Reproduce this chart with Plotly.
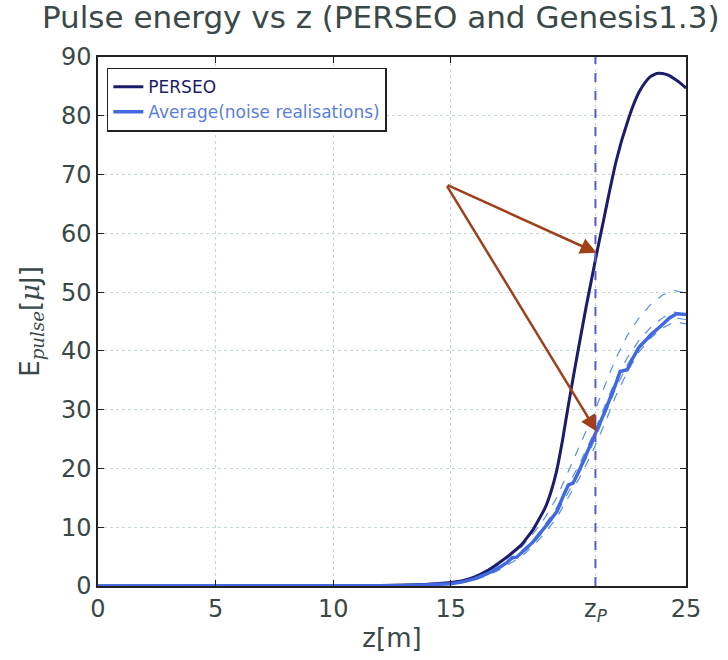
import plotly.graph_objects as go

# ---------------- data ----------------
z_grid = [0, 5, 10, 12, 13, 14, 15, 15.5, 16, 16.5, 17, 17.5, 18, 18.5, 19, 19.25, 19.5, 19.75,
          20, 20.25, 20.5, 20.75, 21, 21.25, 21.5, 21.75, 22, 22.25, 22.5, 22.75, 23, 23.25,
          23.5, 23.75, 24, 24.25, 24.5, 24.75, 25]
perseo = [0, 0, 0.02, 0.08, 0.15, 0.3, 0.6, 0.9, 1.5, 2.5, 3.8, 5.3, 7.0, 9.6, 13.2, 15.9, 19.6, 24.8,
          30.8, 36.5, 42.0, 47.4, 52.5, 57.5, 62.3, 67.2, 71.8, 75.6, 78.8, 81.7, 84.0, 85.6,
          86.7, 87.2, 87.2, 86.9, 86.3, 85.6, 84.7]

z_avg = [0, 5, 10, 12, 13, 14, 15, 15.5, 16, 16.5, 17, 17.4, 17.6, 17.8, 18, 18.5, 19, 19.5,
         19.8, 20, 20.2, 20.5, 21, 21.5, 22, 22.2, 22.5, 22.7, 23, 23.5, 24, 24.3, 24.6, 25]
average = [0, 0, 0.01, 0.05, 0.1, 0.2, 0.4, 0.7, 1.2, 2.0, 3.0, 4.0, 4.8, 4.9, 5.7, 7.5, 10.0, 12.6,
           15.5, 17.2, 17.5, 20.0, 24.6, 29.2, 34.2, 36.5, 36.8, 38.5, 40.6, 42.7, 44.5, 45.6, 46.3, 46.2]

z_real = [0, 5, 10, 12, 13, 14, 15, 15.5, 16, 16.5, 17, 17.5, 18, 18.5, 19, 19.5,
          20, 20.5, 21, 21.5, 22, 22.5, 23, 23.5, 24, 24.5, 25]
real_1 = [0, 0, 0.01, 0.06, 0.12, 0.25, 0.5, 0.8, 1.4, 2.3, 3.5, 5.0, 6.6, 8.9, 11.6, 15.0,
          19.6, 23.9, 28.6, 33.6, 38.6, 42.6, 45.6, 47.9, 49.5, 50.3, 49.8]
real_2 = [0, 0, 0.01, 0.05, 0.1, 0.2, 0.4, 0.7, 1.2, 1.9, 2.9, 4.3, 5.4, 7.2, 9.6, 12.3,
          16.0, 19.6, 23.8, 28.5, 33.5, 37.6, 40.8, 43.0, 44.6, 45.7, 45.3]
real_3 = [0, 0, 0.01, 0.04, 0.09, 0.18, 0.35, 0.6, 1.0, 1.7, 2.6, 3.8, 5.0, 6.8, 9.0, 11.6,
          15.0, 18.6, 22.6, 27.2, 32.2, 36.4, 39.8, 42.2, 43.9, 44.9, 44.6]
real_4 = [0, 0, 0.01, 0.05, 0.1, 0.22, 0.42, 0.72, 1.25, 2.0, 3.1, 4.6, 5.9, 7.8, 10.4, 13.3,
          17.2, 21.0, 25.3, 30.0, 35.0, 38.8, 41.8, 44.0, 45.6, 46.6, 46.2]
realisations = [real_1, real_2, real_3, real_4]

z_p = 21.15
x_tickvals = [0, 5, 10, 15, z_p, 25]
x_ticktext = ["0", "5", "10", "15", "z<sub><i>P</i></sub>", "25"]
y_tickvals = [0, 10, 20, 30, 40, 50, 60, 70, 80, 90]

arrow_start = (14.8, 68.3)
arrow_ends = [(21.2, 56.7), (21.2, 26.3)]

# ---------------- figure ----------------
TXT = "#3b4848"
FONT = "DejaVu Sans"
SERIF_I = 'font-family:DejaVu Serif;font-style:italic'
C_PERSEO = "#1c1c6b"
C_AVG = "#4169e1"

fig = go.Figure()

for i, r in enumerate(realisations):
    fig.add_trace(go.Scatter(x=z_real, y=r, mode="lines", showlegend=False,
                             line=dict(color="#5b8fe6", width=1.2, dash="dash")))

fig.add_trace(go.Scatter(x=z_grid, y=perseo, mode="lines",
                         name=f'<span style="color:{C_PERSEO}">PERSEO</span>',
                         line=dict(color=C_PERSEO, width=3, shape="spline", smoothing=0.3)))
fig.add_trace(go.Scatter(x=z_avg, y=average, mode="lines",
                         name=f'<span style="color:#5a7de0">Average(noise realisations)</span>',
                         line=dict(color=C_AVG, width=3.5)))

fig.add_shape(type="line", x0=z_p, x1=z_p, y0=0, y1=90, xref="x", yref="y",
              line=dict(color="#5a5ac8", width=2, dash="dash"))

for (xe, ye) in arrow_ends:
    fig.add_annotation(x=xe, y=ye, ax=arrow_start[0], ay=arrow_start[1],
                       xref="x", yref="y", axref="x", ayref="y", text="",
                       showarrow=True, arrowhead=2, arrowsize=1.3, arrowwidth=2.5,
                       arrowcolor="#a0401a")

fig.update_layout(
    width=728, height=660,
    margin=dict(l=98, r=42, t=57, b=69),
    paper_bgcolor="white", plot_bgcolor="white",
    font=dict(family=FONT, color=TXT, size=24),
    title=dict(text="Pulse energy vs z (PERSEO and Genesis1.3)", x=0.523, xanchor="center",
               y=0.99, yanchor="top", font=dict(size=31, color=TXT)),
    legend=dict(x=0.015, y=0.98, xanchor="left", yanchor="top",
                bgcolor="white", bordercolor="#222222", borderwidth=1.5,
                font=dict(size=17), tracegroupgap=0, itemwidth=30),
    showlegend=True,
)

fig.update_xaxes(range=[0, 25], tickvals=x_tickvals, ticktext=x_ticktext,
                 showline=True, linecolor="#222222", linewidth=1.5, mirror="allticks",
                 ticks="inside", ticklen=6, tickcolor="#222222",
                 showgrid=True, gridcolor="#c4d8dc", griddash="dot", gridwidth=1.2,
                 zeroline=False, tickfont=dict(size=24),
                 title=dict(text="z[m]", font=dict(size=26), standoff=4))
fig.update_yaxes(range=[0, 90], tickvals=y_tickvals,
                 showline=True, linecolor="#222222", linewidth=1.5, mirror="allticks",
                 ticks="inside", ticklen=6, tickcolor="#222222",
                 showgrid=True, gridcolor="#c4d8dc", griddash="dot", gridwidth=1.2,
                 zeroline=False, tickfont=dict(size=24),
                 title=dict(text=f'E<sub><span style="{SERIF_I}">pulse</span></sub>[<span style="{SERIF_I}">μ</span>J]',
                            font=dict(size=26), standoff=14))

fig.write_html("out.html")
